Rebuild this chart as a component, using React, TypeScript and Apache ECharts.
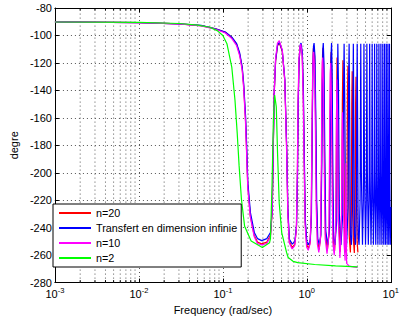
import React, { useEffect, useRef } from "react";
import * as echarts from "echarts";

const seriesNames = ["n=20", "Transfert en dimension infinie", "n=10", "n=2"];
const seriesColors = ["#ff0000", "#0000ff", "#ff00ff", "#00ff00"];

const yTicks = { min: -280, max: -80, step: 20 };
const xRange = { min: 0.001, max: 10 };

const minorTicks = [
  0.002, 0.003, 0.004, 0.005, 0.006, 0.007, 0.008, 0.009,
  0.02, 0.03, 0.04, 0.05, 0.06, 0.07, 0.08, 0.09,
  0.2, 0.3, 0.4, 0.5, 0.6, 0.7, 0.8, 0.9,
  2, 3, 4, 5, 6, 7, 8, 9,
];

// Transfert en dimension infinie
const phaseInf = [
  [0.001, -90.1], [0.01, -90.6], [0.03, -91.5], [0.055, -92.7], [0.082, -95.1], [0.107, -97.5],
  [0.128, -101.2], [0.146, -106], [0.159, -113], [0.17, -123], [0.177, -135], [0.1866, -159],
  [0.193, -183], [0.1983, -207], [0.213, -229], [0.237, -243.5], [0.259, -248], [0.29, -249.4],
  [0.334, -248], [0.369, -243.5], [0.387, -227], [0.398, -183], [0.41, -140], [0.425, -118],
  [0.448, -107], [0.472, -105], [0.51, -111], [0.547, -132], [0.577, -183], [0.595, -227],
  [0.62, -248.5], [0.672, -252], [0.72, -250], [0.755, -238], [0.775, -200], [0.79, -150],
  [0.81, -118], [0.835, -107], [0.854, -105.5], [0.885, -113], [0.91, -140], [0.935, -190],
  [0.96, -235], [1.0, -250], [1.048, -252.5], [1.1, -249], [1.135, -230], [1.16, -170],
  [1.18, -125], [1.2, -108], [1.22, -105.5], [1.25, -115], [1.28, -160], [1.31, -220],
  [1.35, -248], [1.41, -252.5], [1.47, -245], [1.51, -190], [1.535, -130], [1.55, -110],
  [1.57, -105.5], [1.6, -120], [1.64, -190], [1.68, -242], [1.77, -252.5], [1.87, -240],
  [1.91, -160], [1.94, -115], [1.97, -105.5], [2.0, -125], [2.05, -210], [2.09, -248],
  [2.16, -252.5], [2.27, -235], [2.31, -150], [2.34, -106], [2.38, -135], [2.44, -230],
  [2.55, -252.5], [2.68, -230], [2.74, -140], [2.78, -106], [2.83, -150], [2.9, -240],
  [2.98, -252.5], [3.1, -225], [3.15, -130], [3.19, -106], [3.24, -160], [3.3, -245],
  [3.4, -252.5], [3.5, -225], [3.55, -140], [3.58, -106], [3.63, -160], [3.69, -245],
  [3.79, -252.5], [3.9, -225], [3.95, -135], [3.98, -106], [4.03, -165], [4.09, -246],
  [4.19, -252.5], [4.31, -220], [4.39, -106], [4.46, -200], [4.6, -252.5],
  [4.71, -220], [4.79, -106], [4.86, -200], [5.0, -252.5],
  [5.11, -220], [5.19, -106], [5.26, -200], [5.4, -252.5],
  [5.52, -220], [5.6, -106], [5.67, -200], [5.81, -252.5],
  [5.92, -220], [6.0, -106], [6.07, -200], [6.21, -252.5],
  [6.33, -220], [6.41, -106], [6.48, -200], [6.62, -252.5],
  [6.73, -220], [6.81, -106], [6.88, -200], [7.02, -252.5],
  [7.14, -220], [7.22, -106], [7.29, -200], [7.43, -252.5],
  [7.54, -220], [7.62, -106], [7.69, -200], [7.83, -252.5],
  [7.95, -220], [8.03, -106], [8.1, -200], [8.24, -252.5],
  [8.35, -220], [8.43, -106], [8.5, -200], [8.64, -252.5],
  [8.76, -220], [8.84, -106], [8.91, -200], [9.05, -252.5],
  [9.16, -220], [9.24, -106], [9.31, -200], [9.45, -252.5],
  [9.57, -220], [9.65, -106], [9.72, -200], [9.86, -252.5], [10, -225],
];

// n = 20
const phaseN20 = [
  [0.001, -90.1], [0.01, -90.6], [0.03, -91.5], [0.055, -92.8], [0.082, -95.2], [0.107, -97.7],
  [0.128, -101.5], [0.146, -106.5], [0.159, -114], [0.17, -124], [0.177, -137], [0.186, -161],
  [0.192, -185], [0.198, -209], [0.212, -231], [0.236, -245.5], [0.258, -250.5], [0.29, -251.8],
  [0.334, -250.5], [0.369, -245.5], [0.387, -228], [0.398, -184], [0.41, -141], [0.425, -118.5],
  [0.448, -107.5], [0.471, -105.5], [0.51, -111.5], [0.547, -133], [0.576, -184], [0.594, -228],
  [0.62, -250], [0.67, -254.5], [0.72, -252], [0.753, -240], [0.773, -200], [0.788, -150],
  [0.808, -119], [0.833, -108], [0.852, -106.5], [0.882, -114], [0.907, -141], [0.932, -191],
  [0.957, -236], [0.997, -252.5], [1.045, -255], [1.095, -251], [1.13, -231], [1.155, -172],
  [1.175, -128], [1.195, -110], [1.213, -107.5], [1.243, -118], [1.273, -162], [1.303, -222],
  [1.343, -250], [1.4, -256], [1.46, -247], [1.5, -192], [1.523, -133], [1.54, -113],
  [1.558, -109], [1.588, -124], [1.628, -193], [1.668, -245], [1.755, -256.5], [1.85, -243],
  [1.89, -165], [1.92, -121], [1.948, -112], [1.978, -130], [2.03, -212], [2.07, -250],
  [2.14, -257], [2.22, -238], [2.26, -155], [2.29, -116], [2.33, -140], [2.39, -232],
  [2.5, -257.5], [2.6, -233], [2.65, -148], [2.69, -118], [2.74, -156], [2.81, -242],
  [2.9, -258], [3.0, -228], [3.05, -140], [3.09, -122], [3.14, -166], [3.2, -246],
  [3.3, -258], [3.39, -230], [3.43, -150], [3.47, -126], [3.52, -170], [3.58, -248],
  [3.68, -258.5], [3.77, -230], [3.81, -150], [3.85, -130], [3.9, -180], [3.97, -250], [4.06, -258],
];

// n = 10
const phaseN10 = [
  [0.001, -90.1], [0.01, -90.6], [0.03, -91.6], [0.055, -93], [0.082, -95.5], [0.107, -98.2],
  [0.128, -102.3], [0.146, -107.5], [0.159, -115], [0.17, -125.5], [0.177, -138.5], [0.186, -163],
  [0.192, -187], [0.198, -211], [0.212, -232], [0.236, -246.5], [0.258, -251.5], [0.29, -252.5],
  [0.334, -251.5], [0.369, -246.5], [0.386, -229], [0.397, -185], [0.409, -141], [0.424, -117],
  [0.447, -105.5], [0.47, -103.8], [0.51, -110.5], [0.546, -133], [0.575, -185], [0.593, -229],
  [0.618, -251], [0.668, -255.5], [0.718, -253], [0.75, -241], [0.77, -200], [0.785, -150],
  [0.805, -118], [0.83, -107.5], [0.849, -106.5], [0.879, -115], [0.904, -143], [0.929, -193],
  [0.954, -238], [0.994, -254], [1.04, -256.5], [1.09, -252], [1.125, -232], [1.15, -175],
  [1.17, -132], [1.19, -115], [1.205, -112], [1.235, -124], [1.265, -168], [1.295, -226],
  [1.335, -252], [1.39, -258], [1.45, -248], [1.49, -195], [1.51, -140], [1.527, -120],
  [1.545, -116], [1.575, -132], [1.615, -200], [1.655, -248], [1.74, -259], [1.83, -245],
  [1.87, -172], [1.9, -128], [1.925, -120], [1.955, -140], [2.01, -218], [2.05, -252],
  [2.12, -260], [2.21, -240], [2.25, -165], [2.28, -132], [2.32, -155], [2.38, -238],
  [2.48, -262], [2.58, -238], [2.63, -175], [2.66, -156], [2.71, -190], [2.78, -252],
  [2.86, -264], [2.9, -220], [2.92, -193], [2.95, -235], [2.98, -266], [3.2, -268],
  [3.6, -268.5], [4.02, -269],
];

// n = 2
const phaseN2 = [
  [0.001, -90.2], [0.01, -90.5], [0.03, -91.3], [0.05, -92.5], [0.07, -94], [0.0857, -96.5],
  [0.1, -100], [0.1118, -106], [0.1277, -123], [0.1394, -147], [0.1482, -171], [0.1562, -195],
  [0.1665, -219.5], [0.1817, -239], [0.2171, -249.7], [0.2954, -254.5], [0.3594, -251],
  [0.369, -248], [0.385, -209.8], [0.3998, -161.5], [0.4138, -143.4], [0.4329, -152],
  [0.448, -185.7], [0.4688, -222], [0.5023, -243.6], [0.5735, -258], [0.6, -261.7],
  [0.685, -264.5], [0.78, -265.5], [1.24, -266.8], [2.2, -267.8], [4.02, -268.5],
];

const phaseData = [phaseN20, phaseInf, phaseN10, phaseN2];

const FONT = "Liberation Sans, Arial, Helvetica, sans-serif";
const GRID_DOT = "#555";

export default function App() {
  const ref = useRef<HTMLDivElement>(null);

  useEffect(() => {
    if (!ref.current) return;
    const chart = echarts.init(ref.current, null, { renderer: "svg" });

    const lineSeries = seriesNames.map((name, i) => ({
      name,
      type: "line",
      xAxisIndex: 0,
      yAxisIndex: 0,
      data: phaseData[i],
      showSymbol: false,
      symbol: "none",
      lineStyle: { color: seriesColors[i], width: 1.2 },
      itemStyle: { color: seriesColors[i] },
      z: 3 + i,
      silent: true,
    }));

    const minorSeries = {
      type: "custom",
      xAxisIndex: 0,
      yAxisIndex: 0,
      silent: true,
      z: 1,
      data: minorTicks.map((v) => [v, yTicks.min]),
      renderItem: (_params: any, api: any) => {
        const v = api.value(0);
        const p0 = api.coord([v, yTicks.min]);
        const p1 = api.coord([v, yTicks.max]);
        return {
          type: "group",
          children: [
            {
              type: "line",
              shape: { x1: p0[0], y1: p0[1], x2: p1[0], y2: p1[1] },
              style: { stroke: GRID_DOT, lineWidth: 1, lineDash: [1, 3] },
            },
            {
              type: "line",
              shape: { x1: p0[0], y1: p0[1], x2: p0[0], y2: p0[1] - 2.5 },
              style: { stroke: "#000", lineWidth: 1 },
            },
            {
              type: "line",
              shape: { x1: p1[0], y1: p1[1], x2: p1[0], y2: p1[1] + 2.5 },
              style: { stroke: "#000", lineWidth: 1 },
            },
          ],
        };
      },
    };

    const option: any = {
      animation: false,
      backgroundColor: "#fff",
      textStyle: { fontFamily: FONT },
      grid: { left: 49, right: 6, top: 8, bottom: 36, containLabel: false },
      legend: {
        data: seriesNames,
        orient: "vertical",
        left: 53,
        top: 204,
        icon: "rect",
        itemWidth: 32,
        itemHeight: 2,
        itemGap: 2,
        padding: [2.5, 4, 2.5, 6],
        backgroundColor: "#fff",
        borderColor: "#000",
        borderWidth: 1,
        borderRadius: 0,
        selectedMode: false,
        textStyle: { fontFamily: FONT, fontSize: 10.8, color: "#000", lineHeight: 13 },
        z: 10,
      },
      xAxis: [
        {
          type: "log",
          logBase: 10,
          min: xRange.min,
          max: xRange.max,
          position: "bottom",
          name: "Frequency (rad/sec)",
          nameLocation: "middle",
          nameGap: 19,
          nameTextStyle: { fontFamily: FONT, fontSize: 11, color: "#000" },
          axisLine: { show: true, onZero: false, lineStyle: { color: "#000", width: 1 } },
          axisTick: { show: true, inside: true, length: 4, lineStyle: { color: "#000" } },
          axisLabel: {
            margin: 4,
            color: "#000",
            formatter: (v: number) => `{b|10}{s|${Math.round(Math.log10(v))}}`,
            rich: {
              b: { fontFamily: FONT, fontSize: 11, color: "#000", lineHeight: 14 },
              s: { fontFamily: FONT, fontSize: 7.5, color: "#000", lineHeight: 8, verticalAlign: "top" },
            },
          },
          splitLine: { show: true, lineStyle: { color: GRID_DOT, width: 1, type: [1, 3] } },
          minorTick: { show: false },
        },
        {
          type: "log",
          logBase: 10,
          min: xRange.min,
          max: xRange.max,
          position: "top",
          axisLine: { show: true, onZero: false, lineStyle: { color: "#000", width: 1 } },
          axisTick: { show: true, inside: true, length: 4, lineStyle: { color: "#000" } },
          axisLabel: { show: false },
          splitLine: { show: false },
        },
      ],
      yAxis: [
        {
          type: "value",
          min: yTicks.min,
          max: yTicks.max,
          interval: yTicks.step,
          position: "left",
          name: "degre",
          nameLocation: "middle",
          nameGap: 29,
          nameTextStyle: { fontFamily: FONT, fontSize: 11, color: "#000" },
          axisLine: { show: true, onZero: false, lineStyle: { color: "#000", width: 1 } },
          axisTick: { show: true, inside: true, length: 4, lineStyle: { color: "#000" } },
          axisLabel: { margin: 3, color: "#000", fontFamily: FONT, fontSize: 11 },
          splitLine: { show: true, lineStyle: { color: GRID_DOT, width: 1, type: [1, 3] } },
        },
        {
          type: "value",
          min: yTicks.min,
          max: yTicks.max,
          interval: yTicks.step,
          position: "right",
          axisLine: { show: true, onZero: false, lineStyle: { color: "#000", width: 1 } },
          axisTick: { show: true, inside: true, length: 4, lineStyle: { color: "#000" } },
          axisLabel: { show: false },
          splitLine: { show: false },
        },
      ],
      series: [minorSeries, ...lineSeries],
    };

    chart.setOption(option);
    return () => chart.dispose();
  }, []);

  return (
    <div
      ref={ref}
      style={{ position: "fixed", left: 0, top: 0, width: 402, height: 320, background: "#fff" }}
    />
  );
}
